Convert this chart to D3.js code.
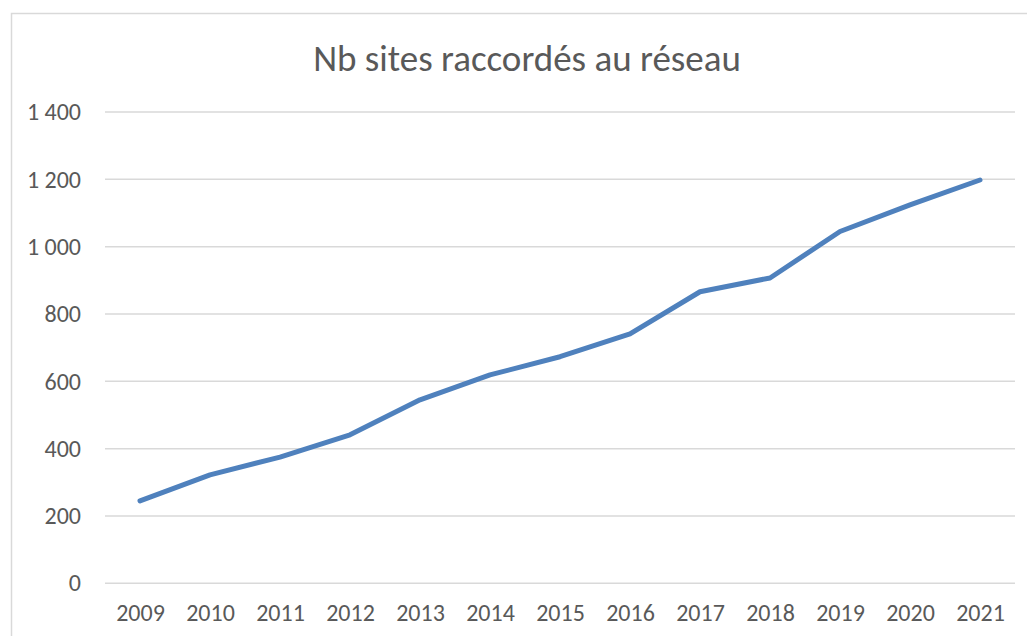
<!DOCTYPE html>
<html>
<head>
<meta charset="utf-8">
<script src="https://d3js.org/d3.v7.min.js"></script>
<style>
body { margin: 0; background: #fff; }
svg { display: block; }
text { font-family: Carlito, Calibri, Lato, sans-serif; fill: #595959; }
</style>
</head>
<body>
<div id="chart"></div>
<script>
var years = ["2009", "2010", "2011", "2012", "2013", "2014", "2015", "2016", "2017", "2018", "2019", "2020", "2021"];
var sites = [245, 322, 375, 441, 545, 619, 673, 741, 866, 907, 1045, 1124, 1198];
var yTicks = [0, 200, 400, 600, 800, 1000, 1200, 1400];
var title = "Nb sites raccordés au réseau";

var width = 1027, height = 636;
var plotLeft = 105, plotRight = 1015, plotTop = 112, plotBottom = 583.3;

var svg = d3.select("#chart").append("svg")
  .attr("width", width).attr("height", height);

// chart frame (cut off at right/bottom in the reference)
svg.append("rect")
  .attr("x", 11.5).attr("y", 13.5)
  .attr("width", 1040).attr("height", 650)
  .style("fill", "none").style("stroke", "#d9d9d9").style("stroke-width", 1.5);

var x = d3.scalePoint().domain(years).range([plotLeft, plotRight]).padding(0.5);
var y = d3.scaleLinear().domain([0, 1400]).range([plotBottom, plotTop]);

var fr = d3.formatLocale({ decimal: ",", thousands: "\u00a0", grouping: [3], currency: ["", " €"] });
var fmt = fr.format(",d");

// gridlines
svg.selectAll("line.grid").data(yTicks).enter()
  .append("line")
  .attr("class", "grid")
  .attr("x1", plotLeft).attr("x2", plotRight)
  .attr("y1", d => y(d)).attr("y2", d => y(d))
  .style("stroke", "#d9d9d9").style("stroke-width", 1.5);

var yAxis = svg.append("g")
  .attr("transform", "translate(" + plotLeft + ",0)")
  .call(d3.axisLeft(y).tickValues(yTicks).tickFormat(fmt).tickSize(0).tickPadding(24));
yAxis.select(".domain").remove();

var xAxis = svg.append("g")
  .attr("transform", "translate(0," + plotBottom + ")")
  .call(d3.axisBottom(x).tickSize(0).tickPadding(21));
xAxis.select(".domain").remove();

svg.selectAll(".tick text")
  .style("fill", "#595959")
  .style("font-size", "24px")
  .style("font-family", "Carlito, Calibri, Lato, sans-serif");

var line = d3.line()
  .x((d, i) => x(years[i]))
  .y(d => y(d));

svg.append("path")
  .datum(sites)
  .attr("d", line)
  .style("fill", "none")
  .style("stroke", "#4f81bd")
  .style("stroke-width", 5)
  .style("stroke-linecap", "round")
  .style("stroke-linejoin", "round");

svg.append("text")
  .attr("x", 527).attr("y", 71)
  .attr("text-anchor", "middle")
  .style("font-size", "37px")
  .style("font-weight", 300)
  .text(title);
</script>
</body>
</html>
